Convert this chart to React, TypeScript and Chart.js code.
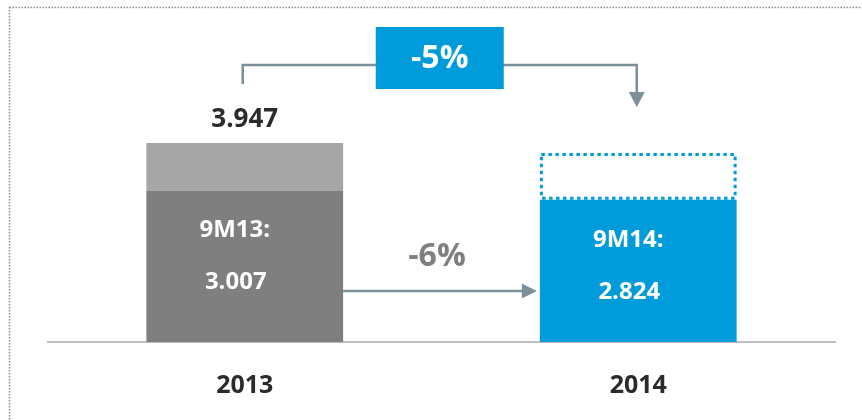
import { useEffect, useRef } from 'react';
import { Chart, registerables } from 'chart.js';

Chart.register(...registerables);

const categories = ['2013', '2014'];
const nineMonthValues = [3.007, 2.824];
const fullYearValues = [3.947, 3.75];
const nineMonthTags = ['9M13:', '9M14:'];
const nineMonthText = ['3.007', '2.824'];
const fullYearText = ['3.947', ''];
const yearChange = '-5%';
const nineMonthChange = '-6%';

const FONT = '"Open Sans", Lato, sans-serif';
const BLUE = '#009bda';
const DARK_GRAY = '#7f7f7f';
const LIGHT_GRAY = '#a6a6a6';
const ARROW = '#7b909b';

const overlay = {
  id: 'overlay',
  beforeDraw(chart: any) {
    const ctx = chart.ctx;
    ctx.save();
    ctx.fillStyle = '#ffffff';
    ctx.fillRect(0, 0, chart.width, chart.height);
    ctx.strokeStyle = '#8c8c8c';
    ctx.lineWidth = 1.5;
    ctx.setLineDash([1.5, 1.5]);
    ctx.strokeRect(9.5, 7.5, chart.width + 20, chart.height + 20);
    ctx.restore();
  },
  afterDatasetsDraw(chart: any) {
    const ctx = chart.ctx;
    const area = chart.chartArea;
    const nine = chart.getDatasetMeta(0).data;
    const full = chart.getDatasetMeta(1).data;
    ctx.save();

    // dotted outline of projected 2014 full year
    const b = full[1];
    const w = b.width;
    ctx.strokeStyle = BLUE;
    ctx.lineWidth = 3;
    ctx.setLineDash([3.5, 3.5]);
    ctx.strokeRect(b.x - w / 2 + 1.5, b.y + 1.5, w - 3, b.base - b.y - 3);
    ctx.setLineDash([]);

    // text inside bars and above
    ctx.textAlign = 'center';
    ctx.textBaseline = 'middle';
    ctx.fillStyle = '#ffffff';
    ctx.font = `bold 24px ${FONT}`;
    nine.forEach((el: any, i: number) => {
      ctx.fillText(nineMonthTags[i], el.x - 10, el.y + 40);
      ctx.fillText(nineMonthText[i], el.x - 9, el.y + 92);
    });
    ctx.fillStyle = '#2b2b2b';
    ctx.font = `bold 26px ${FONT}`;
    full.forEach((el: any, i: number) => {
      if (fullYearText[i]) ctx.fillText(fullYearText[i], el.x, el.y - 23);
    });

    // top connector
    const c0 = nine[0];
    const c1 = nine[1];
    const lx = c0.x - 2;
    const rx = c1.x - 1.5;
    const hy = area.top - 25;
    ctx.strokeStyle = ARROW;
    ctx.fillStyle = ARROW;
    ctx.lineWidth = 2.5;
    ctx.beginPath();
    ctx.moveTo(lx, full[0].y - 59);
    ctx.lineTo(lx, hy);
    ctx.lineTo(rx, hy);
    ctx.lineTo(rx, full[1].y - 61);
    ctx.stroke();
    ctx.beginPath();
    ctx.moveTo(rx - 8, full[1].y - 61);
    ctx.lineTo(rx + 8, full[1].y - 61);
    ctx.lineTo(rx, full[1].y - 46);
    ctx.closePath();
    ctx.fill();

    // -5% box
    const bx = (lx + rx) / 2;
    ctx.fillStyle = BLUE;
    ctx.fillRect(bx - 64, hy - 38, 128, 62);
    ctx.fillStyle = '#ffffff';
    ctx.font = `bold 32px ${FONT}`;
    ctx.fillText(yearChange, bx, hy - 6);

    // bottom arrow
    const ay = area.bottom - 51;
    const ax0 = c0.x + c0.width / 2;
    const ax1 = c1.x - c1.width / 2 - 3;
    ctx.strokeStyle = ARROW;
    ctx.fillStyle = ARROW;
    ctx.lineWidth = 2.5;
    ctx.beginPath();
    ctx.moveTo(ax0, ay);
    ctx.lineTo(ax1 - 14, ay);
    ctx.stroke();
    ctx.beginPath();
    ctx.moveTo(ax1 - 15, ay - 7.5);
    ctx.lineTo(ax1, ay);
    ctx.lineTo(ax1 - 15, ay + 7.5);
    ctx.closePath();
    ctx.fill();

    ctx.fillStyle = '#808080';
    ctx.font = `bold 32px ${FONT}`;
    ctx.fillText(nineMonthChange, (ax0 + ax1) / 2 - 3, ay - 34);

    ctx.restore();
  },
};

export default function App() {
  const ref = useRef<HTMLCanvasElement | null>(null);
  useEffect(() => {
    if (!ref.current) return;
    const remainder = fullYearValues.map((v, i) => v - nineMonthValues[i]);
    const chart = new Chart(ref.current, {
      type: 'bar',
      data: {
        labels: categories,
        datasets: [
          {
            label: '9M',
            data: nineMonthValues,
            backgroundColor: [DARK_GRAY, BLUE],
            barPercentage: 0.5,
            categoryPercentage: 1,
          },
          {
            label: 'Full year',
            data: remainder,
            backgroundColor: [LIGHT_GRAY, 'rgba(0,0,0,0)'],
            barPercentage: 0.5,
            categoryPercentage: 1,
          },
        ],
      },
      options: {
        animation: false,
        responsive: false,
        devicePixelRatio: 1,
        layout: { padding: { left: 48, right: 27, top: 90, bottom: 0 } },
        plugins: { legend: { display: false }, tooltip: { enabled: false } },
        scales: {
          x: {
            stacked: true,
            grid: { display: false, drawTicks: false },
            border: { display: true, color: '#bfbfbf', width: 2 },
            ticks: {
              color: '#2b2b2b',
              padding: 29,
              font: { family: FONT, size: 25, weight: 'bold' },
            },
            afterFit: (scale: any) => {
              scale.height = 78;
            },
          },
          y: {
            stacked: true,
            display: false,
            min: 0,
            max: 5,
          },
        },
      },
      plugins: [overlay],
    });
    return () => chart.destroy();
  }, []);
  return (
    <div style={{ position: 'absolute', left: 0, top: 0, width: 862, height: 420 }}>
      <canvas ref={ref} width={862} height={420} />
    </div>
  );
}
